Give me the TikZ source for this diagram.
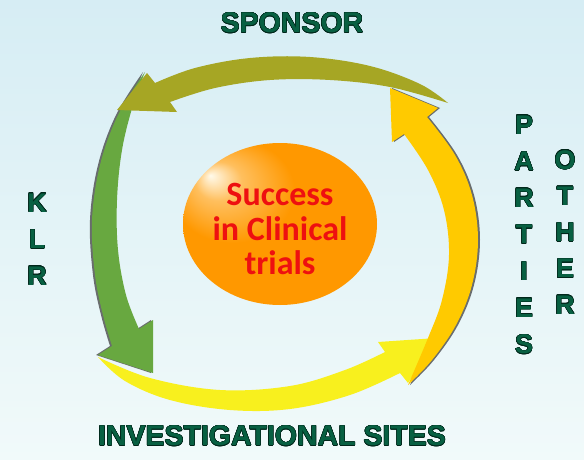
\documentclass[tikz,border=0pt]{standalone}
\usepackage{fontspec}
\usepackage[copies]{contour}
\usetikzlibrary{shapes.geometric}
\newfontfamily\labelfont{Liberation Sans}
\newfontfamily\orbfont{Carlito}
\contourlength{0.45pt}
\definecolor{bgtop}{RGB}{214,237,244}
\definecolor{bgbot}{RGB}{241,250,250}
\definecolor{labgreen}{RGB}{8,96,66}
\definecolor{labedge}{RGB}{0,38,26}
\definecolor{olivearr}{RGB}{166,166,36}
\definecolor{greenarr}{RGB}{104,168,64}
\definecolor{goldarr}{RGB}{255,202,0}
\definecolor{yellowarr}{RGB}{248,240,30}
\definecolor{orbmain}{RGB}{255,152,0}
\definecolor{orbedge}{RGB}{242,128,0}
\definecolor{orbhi}{RGB}{255,250,235}
\definecolor{orbtext}{RGB}{238,16,16}
\pgfdeclareradialshading{orbglow}{\pgfpoint{-18bp}{15bp}}{color(0bp)=(orbhi);
color(6bp)=(orbhi!40!orbmain); color(16bp)=(orbmain); color(44bp)=(orbmain);
color(50bp)=(orbedge)}
\newcommand{\lbl}[1]{\contour{labedge}{#1}}

\begin{document}
\begin{tikzpicture}
[x=1pt,y=-1pt,
labeltext/.style={font=\labelfont\bfseries\fontsize{28.5}{30}\selectfont,text=labgreen,inner sep=0pt},
vletter/.style={font=\labelfont\bfseries\fontsize{27}{30}\selectfont,text=labgreen,inner sep=0pt},
arrowshade/.style={fill=black!75,opacity=.75},
orb/.style={ellipse,minimum width=194,minimum height=162,inner sep=0pt,shading=orbglow},
orbtext/.style={font=\orbfont\bfseries\fontsize{34}{34.5}\selectfont,text=orbtext,align=center,inner sep=0pt}]
\shade [top color=bgtop,bottom color=bgbot] (0,0) rectangle (584,460);
\useasboundingbox (0,0) rectangle (584,460);
% bottom arrow
\fill [yellowarr] plot [smooth,tension=.6] coordinates {(98,357) (150,378) (220,390) (290,386) (345,370) (385,352)}
  -- (378,342) -- (437,338) -- (408,383)
  -- plot [smooth,tension=.6] coordinates {(400,373) (350,395) (290,409) (230,410) (170,400) (125,381) (98,357)} -- cycle;
% left arrow
\begin{scope}[xshift=-2pt]
\fill [arrowshade] plot [smooth,tension=.6] coordinates {(145,72) (118,115) (100,165) (92,220) (95,275) (103,315) (112,346)}
  -- (98,355) -- (153,373) -- (153,320)
  -- plot [smooth,tension=.6] coordinates {(139,329) (126,295) (118,250) (117,200) (122,150) (133,105) (145,72)} -- cycle;
\end{scope}
\fill [greenarr] plot [smooth,tension=.6] coordinates {(145,72) (118,115) (100,165) (92,220) (95,275) (103,315) (112,346)}
  -- (98,355) -- (153,373) -- (153,320)
  -- plot [smooth,tension=.6] coordinates {(139,329) (126,295) (118,250) (117,200) (122,150) (133,105) (145,72)} -- cycle;
% right arrow
\begin{scope}[xshift=2pt]
\fill [arrowshade] plot [smooth,tension=.6] coordinates {(408,385) (432,360) (456,325) (472,285) (478,240) (472,195) (455,155) (427,117)}
  -- (438,108) -- (390,88) -- (392,142)
  -- plot [smooth,tension=.6] coordinates {(404,134) (428,170) (444,210) (449,255) (442,300) (428,338) (408,385)} -- cycle;
\end{scope}
\fill [goldarr] plot [smooth,tension=.6] coordinates {(408,385) (432,360) (456,325) (472,285) (478,240) (472,195) (455,155) (427,117)}
  -- (438,108) -- (390,88) -- (392,142)
  -- plot [smooth,tension=.6] coordinates {(404,134) (428,170) (444,210) (449,255) (442,300) (428,338) (408,385)} -- cycle;
% top arrow
\fill [olivearr] plot [smooth,tension=.6] coordinates {(448,103) (420,84) (370,66) (310,57) (250,58) (195,68) (155,83)}
  -- (147,73) -- (117,110) -- (177,112)
  -- plot [smooth,tension=.6] coordinates {(170,102) (215,88) (270,80) (330,80) (390,87) (448,103)} -- cycle;
\node [orb] (orb) at (280,224) {};
\node [orbtext] (success) at (280,229) {Success\\in Clinical\\trials};
\node [labeltext] (sponsor) at (292,23) {\lbl{SPONSOR}};
\node [labeltext] (sites) at (272,436) {\lbl{INVESTIGATIONAL SITES}};
\foreach \ch [count=\i] in {K,L,R}
  \node [vletter] (klr\i) at (37,{203+36.5*(\i-1)}) {\lbl{\ch}};
\foreach \ch [count=\i] in {P,A,R,T,I,E,S}
  \node [vletter] (parties\i) at (524,{125+36.6*(\i-1)}) {\lbl{\ch}};
\foreach \ch [count=\i] in {O,T,H,E,R}
  \node [vletter] (other\i) at (565,{160+36.3*(\i-1)}) {\lbl{\ch}};
\end{tikzpicture}
\end{document}
